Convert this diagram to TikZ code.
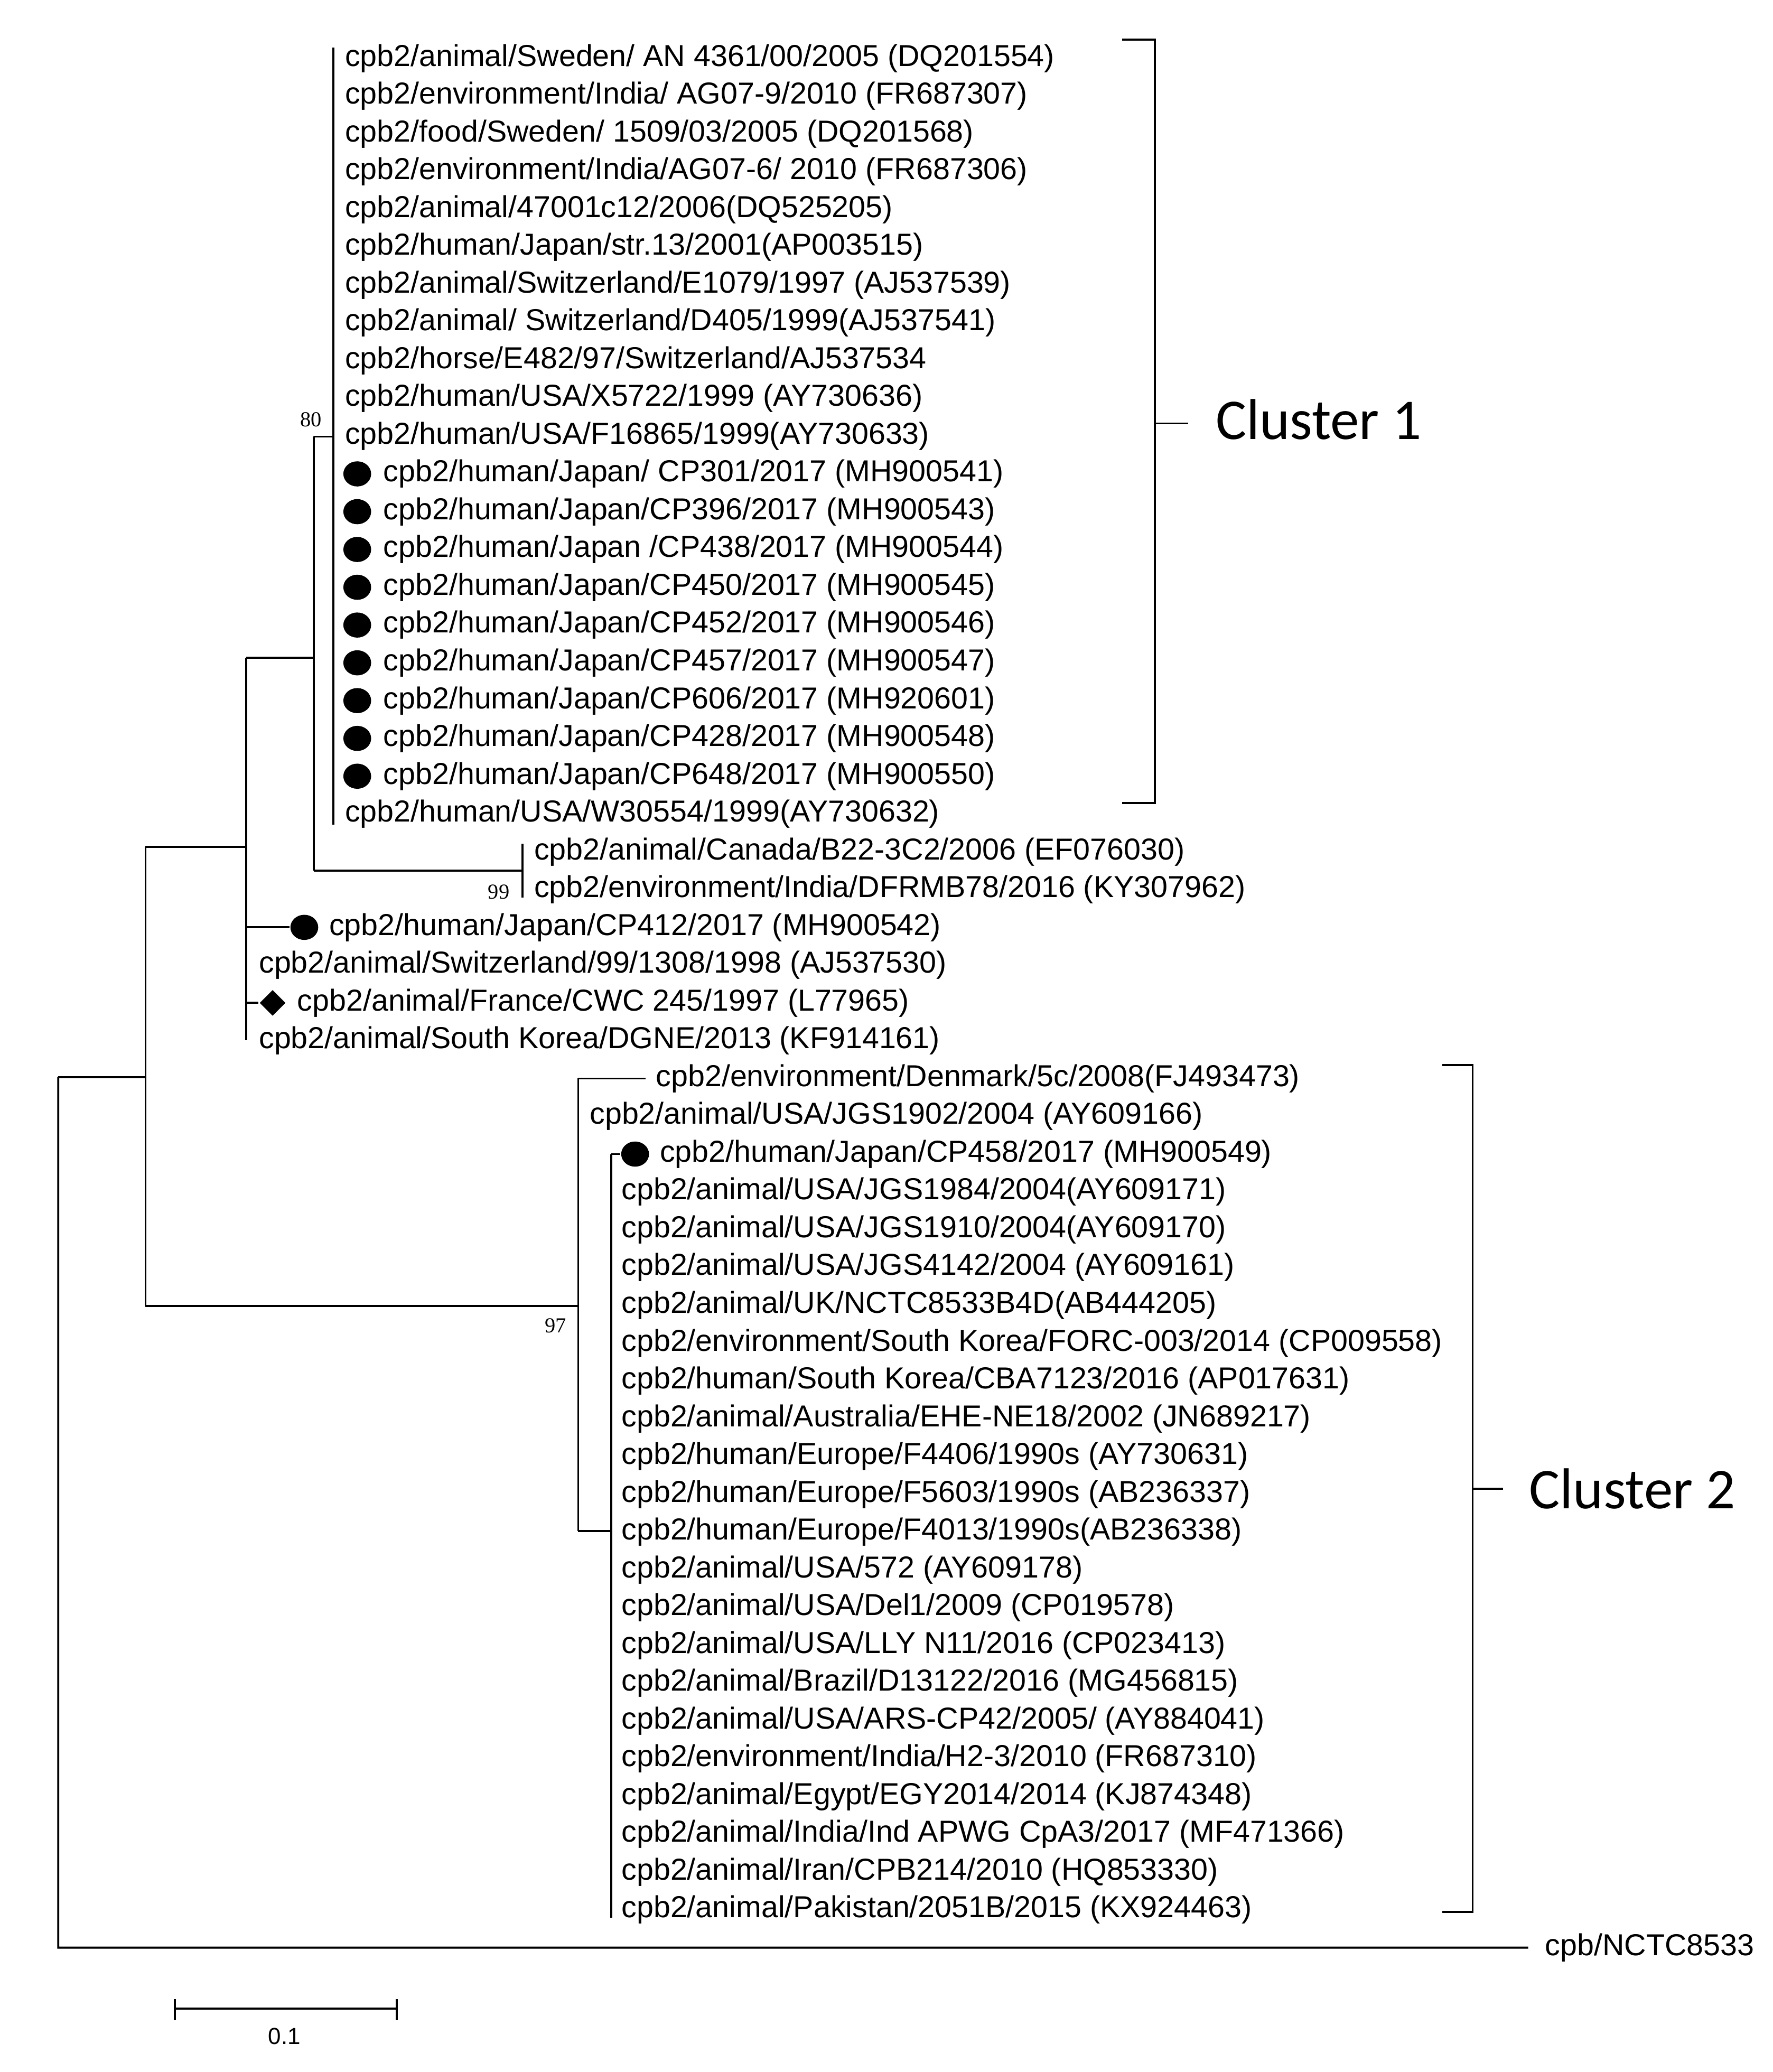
\documentclass[tikz,border=0pt]{standalone}
\usepackage{fontspec}
\setmainfont{Liberation Sans}
\newfontfamily\clf{Carlito}
\newfontfamily\srf{Liberation Serif}
\usetikzlibrary{shapes.geometric}
\begin{document}
\begin{tikzpicture}[x=0.05cm,y=-0.05cm,line width=2.2pt,
  lab/.style={anchor=west,inner sep=0pt,font=\fontsize{32.6}{38}\selectfont},
  boot/.style={inner sep=0pt,font=\srf\fontsize{23}{27}\selectfont},
  cl/.style={anchor=west,inner sep=0pt,font=\clf\fontsize{62}{70}\selectfont},
  dot/.style={ellipse,fill=black,minimum width=1.05cm,minimum height=0.95cm,inner sep=0pt},
  dia/.style={diamond,fill=black,minimum width=1.0cm,minimum height=1.0cm,inner sep=0pt}]
\useasboundingbox (0,0) rectangle (1340,1566);
\def\r#1{44+#1*28.56}
% cluster 1 leaves
\node[lab] (l0) at (260,{\r0}) {cpb2/animal/Sweden/ AN 4361/00/2005 (DQ201554)};
\node[lab] (l1) at (260,{\r1}) {cpb2/environment/India/ AG07-9/2010 (FR687307)};
\node[lab] (l2) at (260,{\r2}) {cpb2/food/Sweden/ 1509/03/2005 (DQ201568)};
\node[lab] (l3) at (260,{\r3}) {cpb2/environment/India/AG07-6/ 2010 (FR687306)};
\node[lab] (l4) at (260,{\r4}) {cpb2/animal/47001c12/2006(DQ525205)};
\node[lab] (l5) at (260,{\r5}) {cpb2/human/Japan/str.13/2001(AP003515)};
\node[lab] (l6) at (260,{\r6}) {cpb2/animal/Switzerland/E1079/1997 (AJ537539)};
\node[lab] (l7) at (260,{\r7}) {cpb2/animal/ Switzerland/D405/1999(AJ537541)};
\node[lab] (l8) at (260,{\r8}) {cpb2/horse/E482/97/Switzerland/AJ537534};
\node[lab] (l9) at (260,{\r9}) {cpb2/human/USA/X5722/1999 (AY730636)};
\node[lab] (l10) at (260,{\r{10}}) {cpb2/human/USA/F16865/1999(AY730633)};
\foreach \i/\t in {11/{cpb2/human/Japan/ CP301/2017 (MH900541)},12/{cpb2/human/Japan/CP396/2017 (MH900543)},13/{cpb2/human/Japan /CP438/2017 (MH900544)},14/{cpb2/human/Japan/CP450/2017 (MH900545)},15/{cpb2/human/Japan/CP452/2017 (MH900546)},16/{cpb2/human/Japan/CP457/2017 (MH900547)},17/{cpb2/human/Japan/CP606/2017 (MH920601)},18/{cpb2/human/Japan/CP428/2017 (MH900548)},19/{cpb2/human/Japan/CP648/2017 (MH900550)}}{
  \node[dot] (d\i) at (270,{\r\i}) {};
  \node[lab] (l\i) at (289,{\r\i}) {\t};
}
\node[lab] (l20) at (260,{\r{20}}) {cpb2/human/USA/W30554/1999(AY730632)};
\node[lab] (l21) at (403,{\r{21}}) {cpb2/animal/Canada/B22-3C2/2006 (EF076030)};
\node[lab] (l22) at (403,{\r{22}}) {cpb2/environment/India/DFRMB78/2016 (KY307962)};
\node[dot] (d23) at (230,{\r{23}}) {};
\node[lab] (l23) at (248,{\r{23}}) {cpb2/human/Japan/CP412/2017 (MH900542)};
\node[lab] (l24) at (195,{\r{24}}) {cpb2/animal/Switzerland/99/1308/1998 (AJ537530)};
\node[dia] (d25) at (206,{\r{25}}) {};
\node[lab] (l25) at (224,{\r{25}}) {cpb2/animal/France/CWC 245/1997 (L77965)};
\node[lab] (l26) at (195,{\r{26}}) {cpb2/animal/South Korea/DGNE/2013 (KF914161)};
\node[lab] (l27) at (495,{\r{27}}) {cpb2/environment/Denmark/5c/2008(FJ493473)};
\node[lab] (l28) at (445,{\r{28}}) {cpb2/animal/USA/JGS1902/2004 (AY609166)};
\node[dot] (d29) at (480,{\r{29}}) {};
\node[lab] (l29) at (498,{\r{29}}) {cpb2/human/Japan/CP458/2017 (MH900549)};
\foreach \i/\t in {30/{cpb2/animal/USA/JGS1984/2004(AY609171)},31/{cpb2/animal/USA/JGS1910/2004(AY609170)},32/{cpb2/animal/USA/JGS4142/2004 (AY609161)},33/{cpb2/animal/UK/NCTC8533B4D(AB444205)},34/{cpb2/environment/South Korea/FORC-003/2014 (CP009558)},35/{cpb2/human/South Korea/CBA7123/2016 (AP017631)},36/{cpb2/animal/Australia/EHE-NE18/2002 (JN689217)},37/{cpb2/human/Europe/F4406/1990s (AY730631)},38/{cpb2/human/Europe/F5603/1990s (AB236337)},39/{cpb2/human/Europe/F4013/1990s(AB236338)},40/{cpb2/animal/USA/572 (AY609178)},41/{cpb2/animal/USA/Del1/2009 (CP019578)},42/{cpb2/animal/USA/LLY N11/2016 (CP023413)},43/{cpb2/animal/Brazil/D13122/2016 (MG456815)},44/{cpb2/animal/USA/ARS-CP42/2005/ (AY884041)},45/{cpb2/environment/India/H2-3/2010 (FR687310)},46/{cpb2/animal/Egypt/EGY2014/2014 (KJ874348)},47/{cpb2/animal/India/Ind APWG CpA3/2017 (MF471366)},48/{cpb2/animal/Iran/CPB214/2010 (HQ853330)},49/{cpb2/animal/Pakistan/2051B/2015 (KX924463)}}{
  \node[lab] (l\i) at (469,{\r\i}) {\t};
}
\node[lab] (l50) at (1167,{\r{50}}) {cpb/NCTC8533};
% tree
\draw (44,814) -- (44,1472) -- ([xshift=-0.6cm]l50.west);
\draw (44,814) -- (110,814);
\draw (110,640) -- (110,987);
\draw (110,640) -- (186,640);
\draw (110,987) -- (437,987);
\draw (186,497) -- (186,786);
\draw (186,497) -- (237,497);
\draw (186,{\r{23}}) -- (d23.west);
\draw (186,{\r{25}}) -- (d25.west);
\draw (237,330) -- (237,658);
\draw (237,330) -- (252,330);
\draw (237,658) -- (395,658);
\draw (252,{\r0-8}) -- (252,{\r{20}+8});
\draw (395,{\r{21}-6}) -- (395,{\r{22}+6});
\draw (437,{\r{27}}) -- (437,1157);
\draw (437,{\r{27}}) -- ([xshift=-0.35cm]l27.west);
\draw (437,1157) -- (462,1157);
\draw (462,{\r{29}}) -- (462,{\r{49}+6});
\draw (462,{\r{29}}) -- (d29.west);
\node[boot] (b80) at (235,317) {80};
\node[boot] (b99) at (377,674) {99};
\node[boot] (b97) at (420,1002) {97};
% brackets
\draw (848,30) -- (873,30) -- (873,607) -- (848,607);
\draw (873,320) -- (898,320);
\node[cl] (c1) at (918,317) {Cluster 1};
\draw (1090,805) -- (1113,805) -- (1113,1445) -- (1090,1445);
\draw (1113,1125) -- (1136,1125);
\node[cl] (c2) at (1155,1125) {Cluster 2};
% scale bar
\draw (132,1518) -- (300,1518);
\draw (132,1511) -- (132,1527);
\draw (300,1511) -- (300,1527);
\node[inner sep=0pt,font=\fontsize{25}{29}\selectfont] (sb) at (215,1539) {0.1};
\end{tikzpicture}
\end{document}
